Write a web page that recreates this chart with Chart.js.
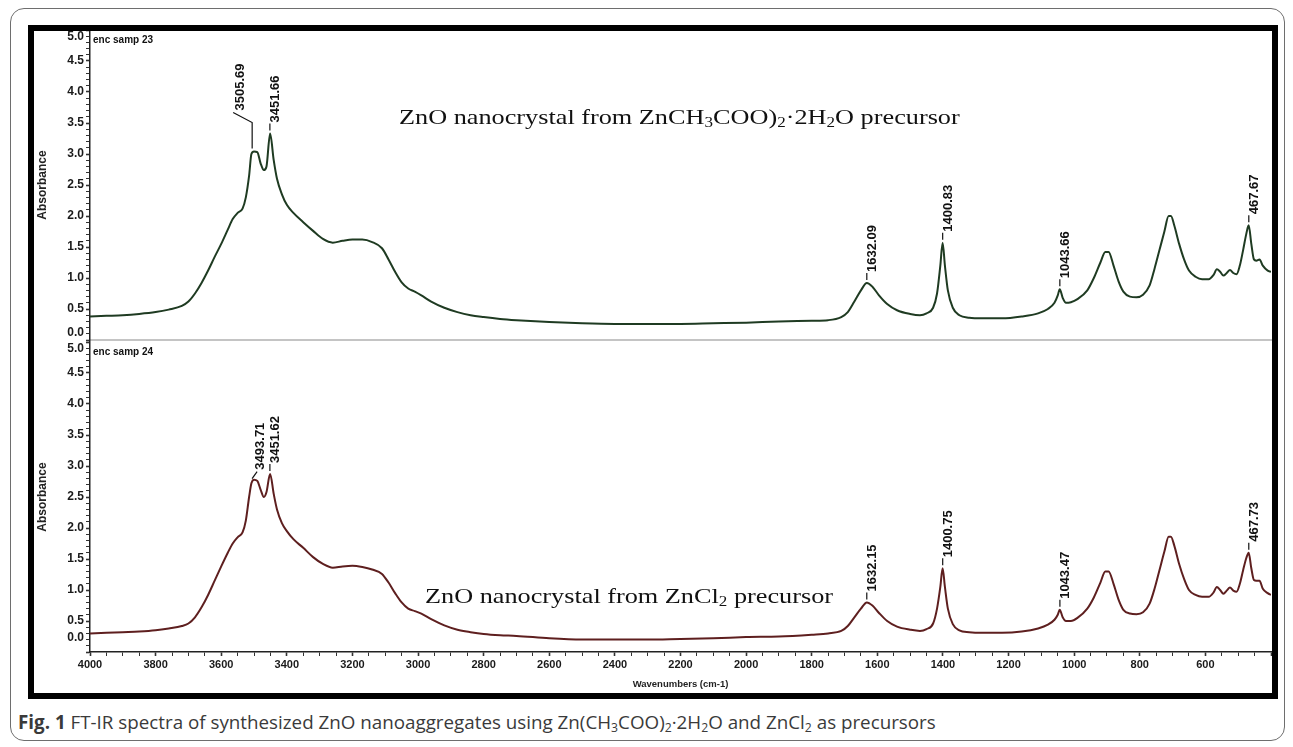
<!DOCTYPE html>
<html>
<head>
<meta charset="utf-8">
<title>FT-IR spectra of ZnO nanoaggregates</title>
<script src="https://cdn.jsdelivr.net/npm/chart.js@4.4.1/dist/chart.umd.min.js"></script>
<style>
html, body { margin:0; padding:0; background:#fff; width:1293px; height:747px; overflow:hidden; }
#outer { position:absolute; left:10px; top:8px; width:1275px; height:733px; border:1.5px solid #6e6e6e; border-radius:14px; box-sizing:border-box; }
#frame { position:absolute; left:28px; top:25px; width:1250px; height:674px; border:6px solid #000; box-sizing:border-box; z-index:5; }
#topWrap { position:absolute; left:34px; top:25px; width:1238px; height:320px; }
#botWrap { position:absolute; left:34px; top:341px; width:1238px; height:352px; }
.note { position:absolute; font-family:'Liberation Serif','Times New Roman',serif; font-size:21px; line-height:22px; color:#111; white-space:nowrap; z-index:6; transform:scaleX(1.25); transform-origin:0 50%; }
.note sub, #caption sub { font-size:0.65em; vertical-align:-0.25em; line-height:0; }
#caption { position:absolute; left:18px; top:710px; font-family:'Open Sans','Noto Sans',sans-serif; font-size:18.8px; line-height:24px; color:#3a3a3a; white-space:nowrap; }
</style>
</head>
<body>
<div id="outer"></div>
<div id="topWrap"><canvas id="topChart"></canvas></div>
<div id="botWrap"><canvas id="botChart"></canvas></div>
<div id="frame"></div>
<div class="note" id="noteTop" style="left:399px; top:106px;">ZnO nanocrystal from ZnCH<sub>3</sub>COO)<sub>2</sub>·2H<sub>2</sub>O precursor</div>
<div class="note" id="noteBot" style="left:425px; top:585px;">ZnO nanocrystal from ZnCl<sub>2</sub> precursor</div>
<div id="caption"><b>Fig. 1</b> FT-IR spectra of synthesized ZnO nanoaggregates using Zn(CH<sub>3</sub>COO)<sub>2</sub>·2H<sub>2</sub>O and ZnCl<sub>2</sub> as precursors</div>

<script>
// wavenumbers (cm-1), shared by both spectra
const wavenumbers = [4000, 3950, 3900, 3850, 3800, 3760, 3720, 3700, 3680, 3660, 3640, 3620, 3600, 3580, 3565, 3550,
  3535, 3525, 3515, 3508, 3500, 3490, 3480, 3470, 3462, 3451, 3440, 3430, 3415, 3400, 3380, 3350, 3320, 3290, 3260,
  3230, 3200, 3170, 3140, 3110, 3090, 3070, 3050, 3030, 3010, 2990, 2960, 2920, 2880, 2840, 2800, 2750, 2700, 2600,
  2500, 2400, 2300, 2200, 2100, 2000, 1900, 1800, 1750, 1710, 1690, 1670, 1650, 1632, 1615, 1595, 1570, 1540, 1500,
  1470, 1450, 1430, 1418, 1408, 1401, 1394, 1385, 1370, 1350, 1320, 1280, 1220, 1160, 1110, 1080, 1060, 1050, 1044,
  1035, 1025, 1010, 990, 960, 940, 920, 905, 895, 880, 865, 850, 830, 810, 790, 770, 755, 740, 725, 712, 705, 695,
  680, 665, 650, 630, 610, 590, 575, 565, 555, 545, 535, 525, 515, 505, 495, 485, 475, 468, 460, 452, 445, 435, 425,
  410, 400];

// ZnO from Zn(CH3COO)2·2H2O (enc samp 23)
const absTop = [0.38, 0.39, 0.40, 0.42, 0.45, 0.49, 0.55, 0.62, 0.75, 0.92, 1.12, 1.34, 1.55, 1.78, 1.95, 2.05,
  2.12, 2.30, 2.65, 3.00, 3.04, 3.03, 2.85, 2.74, 2.80, 3.33, 2.90, 2.60, 2.35, 2.18, 2.05, 1.90, 1.76, 1.63, 1.57,
  1.60, 1.62, 1.62, 1.58, 1.48, 1.30, 1.10, 0.93, 0.83, 0.78, 0.72, 0.62, 0.52, 0.45, 0.40, 0.37, 0.34, 0.32, 0.29,
  0.27, 0.26, 0.26, 0.26, 0.27, 0.28, 0.30, 0.31, 0.32, 0.37, 0.45, 0.62, 0.80, 0.92, 0.86, 0.72, 0.58, 0.48, 0.42,
  0.40, 0.43, 0.52, 0.75, 1.20, 1.57, 1.20, 0.80, 0.52, 0.40, 0.36, 0.35, 0.35, 0.38, 0.43, 0.50, 0.60, 0.72, 0.82,
  0.68, 0.60, 0.61, 0.66, 0.80, 1.00, 1.25, 1.42, 1.42, 1.20, 0.95, 0.78, 0.70, 0.69, 0.73, 0.88, 1.15, 1.45, 1.75,
  2.00, 2.00, 1.85, 1.55, 1.30, 1.12, 1.02, 0.98, 0.98, 1.05, 1.14, 1.10, 1.04, 1.08, 1.13, 1.08, 1.06, 1.20, 1.45,
  1.72, 1.85, 1.55, 1.30, 1.28, 1.30, 1.20, 1.12, 1.10];

// ZnO from ZnCl2 (enc samp 24)
const absBottom = [0.30, 0.31, 0.32, 0.33, 0.35, 0.38, 0.42, 0.46, 0.56, 0.72, 0.92, 1.15, 1.38, 1.60, 1.75, 1.85,
  1.93, 2.12, 2.50, 2.72, 2.78, 2.76, 2.62, 2.50, 2.58, 2.87, 2.55, 2.30, 2.08, 1.95, 1.82, 1.68, 1.53, 1.42, 1.36,
  1.38, 1.39, 1.37, 1.33, 1.26, 1.12, 0.95, 0.80, 0.70, 0.66, 0.62, 0.53, 0.43, 0.36, 0.32, 0.29, 0.27, 0.26, 0.22,
  0.20, 0.20, 0.20, 0.21, 0.22, 0.24, 0.25, 0.28, 0.30, 0.34, 0.42, 0.56, 0.70, 0.80, 0.75, 0.63, 0.50, 0.41, 0.36,
  0.34, 0.37, 0.46, 0.70, 1.05, 1.35, 1.05, 0.70, 0.45, 0.35, 0.32, 0.31, 0.31, 0.33, 0.38, 0.44, 0.52, 0.60, 0.68,
  0.56, 0.50, 0.50, 0.55, 0.70, 0.88, 1.12, 1.30, 1.30, 1.10, 0.85, 0.68, 0.62, 0.61, 0.64, 0.78, 1.02, 1.32, 1.62,
  1.86, 1.86, 1.72, 1.42, 1.18, 1.00, 0.92, 0.89, 0.89, 0.96, 1.05, 1.00, 0.94, 0.99, 1.04, 0.99, 0.97, 1.10, 1.32,
  1.52, 1.60, 1.35, 1.16, 1.15, 1.15, 1.02, 0.95, 0.92];

// peak labels as printed on each spectrum
const peaksTop = ['3505.69', '3451.66', '1632.09', '1400.83', '1043.66', '467.67'];
const peaksBottom = ['3493.71', '3451.62', '1632.15', '1400.75', '1043.47', '467.73'];

const SANS = '"Liberation Sans", Arial, sans-serif';

// rotated peak labels + sample name, placed from the chart's own scales
const peakLabelPlugin = {
  id: 'peakLabels',
  afterDatasetsDraw(chart, args, opts) {
    const { ctx, chartArea, scales: { x, y } } = chart;
    const pts = chart.data.datasets[0].data;
    ctx.save();
    ctx.fillStyle = '#111';
    ctx.strokeStyle = '#111';
    ctx.lineWidth = 1.2;
    ctx.font = 'bold 10px ' + SANS;
    ctx.textAlign = 'left';
    ctx.textBaseline = 'middle';
    ctx.fillText(opts.sample, chartArea.left + 3, chartArea.top + 10);

    ctx.font = 'bold 13px ' + SANS;
    opts.texts.forEach(t => {
      const wn = parseFloat(t);
      let best = null;
      pts.forEach(p => { if (Math.abs(p.x - wn) <= 8 && (!best || p.y > best.y)) best = p; });
      const px = x.getPixelForValue(wn);
      const py = y.getPixelForValue(best.y);
      let tx = px + 6, ty = py - 11;
      ctx.beginPath();
      if (t === opts.bend) {
        ctx.moveTo(px, py - 3);
        ctx.lineTo(px, py - 29);
        ctx.lineTo(px - 19, py - 39);
        tx = px - 12; ty = py - 41;
      } else if (t === opts.slash) {
        ctx.moveTo(px - 4, py - 1);
        ctx.lineTo(px + 1, py - 8);
        tx = px + 4; ty = py - 10;
      } else {
        ctx.moveTo(px, py - 3);
        ctx.lineTo(px, py - 10);
      }
      ctx.stroke();
      ctx.save();
      ctx.translate(tx, ty);
      ctx.rotate(-Math.PI / 2);
      ctx.fillText(t, 0, 0);
      ctx.restore();
    });
    ctx.restore();
  }
};

function yTickLabel(v, zeroPad) {
  const tenth = Math.round(v * 10);
  if (tenth % 5 !== 0) return '';
  const txt = (tenth / 10).toFixed(1);
  // end labels are nudged inwards like in the original print
  if (tenth === 50) return ['', txt];
  if (tenth === 0) return [txt].concat(Array(zeroPad).fill(''));
  return txt;
}

function yAxis(zeroPad) {
  return {
    type: 'linear', min: 0, max: 5,
    ticks: {
      stepSize: 0.1, autoSkip: false, padding: 2, color: '#1a1a1a',
      font: { family: SANS, size: 12, weight: 'bold', lineHeight: 14 / 12 },
      callback: v => yTickLabel(v, zeroPad)
    },
    grid: {
      display: true, drawOnChartArea: false, drawTicks: true, tickLength: 4, color: '#333',
      tickWidth: c => (Math.round(c.tick.value * 10) % 5 === 0 ? 1.6 : 1)
    },
    border: { display: true, color: '#222', width: 1.5 },
    title: {
      display: true, text: 'Absorbance', color: '#222',
      font: { family: SANS, size: 12, weight: 'bold', lineHeight: 1.2 },
      padding: { top: 1, bottom: 0 }
    },
    afterFit(s) { s.width = 56; s.paddingTop = 0; s.paddingBottom = 0; }
  };
}

function spectrum(vals, color) {
  return {
    data: wavenumbers.map((w, i) => ({ x: w, y: vals[i] })),
    borderColor: color, borderWidth: 2, pointRadius: 0,
    cubicInterpolationMode: 'monotone', fill: false
  };
}

const common = {
  responsive: true, maintainAspectRatio: false, animation: false,
  parsing: false, normalized: true
};

new Chart(document.getElementById('topChart'), {
  type: 'line',
  data: { datasets: [spectrum(absTop, '#1f3b22')] },
  options: Object.assign({}, common, {
    layout: { padding: { top: 5, right: 1, bottom: 3, left: 0 } },
    plugins: {
      legend: { display: false }, tooltip: { enabled: false },
      peakLabels: { texts: peaksTop, sample: 'enc samp 23', bend: '3505.69' }
    },
    scales: {
      x: {
        type: 'linear', min: 400, max: 4000, reverse: true,
        ticks: { display: false },
        grid: { display: false },
        border: { display: true, color: '#c4c4c4', width: 2 },
        afterFit(s) { s.height = 2; s.paddingLeft = 0; s.paddingRight = 0; }
      },
      y: yAxis(1)
    }
  }),
  plugins: [peakLabelPlugin]
});

new Chart(document.getElementById('botChart'), {
  type: 'line',
  data: { datasets: [spectrum(absBottom, '#5e1f1f')] },
  options: Object.assign({}, common, {
    layout: { padding: { top: 1, right: 1, bottom: 0, left: 0 } },
    plugins: {
      legend: { display: false }, tooltip: { enabled: false },
      peakLabels: { texts: peaksBottom, sample: 'enc samp 24', slash: '3493.71' }
    },
    scales: {
      x: {
        type: 'linear', min: 400, max: 4000, reverse: true,
        ticks: {
          stepSize: 50, autoSkip: false, maxRotation: 0, padding: 2, color: '#1a1a1a',
          font: { family: SANS, size: 11, weight: 'bold' },
          callback: v => (v % 200 === 0 && v > 400 ? String(v) : '')
        },
        grid: {
          display: true, drawOnChartArea: false, drawTicks: true, tickLength: 4, color: '#333',
          tickWidth: c => (c.tick.value % 200 === 0 ? 1.6 : 1)
        },
        border: { display: true, color: '#222', width: 1.5 },
        title: {
          display: true, text: 'Wavenumbers (cm-1)', color: '#222',
          font: { family: SANS, size: 9.5, weight: 'bold', lineHeight: 1.2 },
          padding: { top: 0, bottom: 3 }
        },
        afterFit(s) { s.height = 41; s.paddingLeft = 0; s.paddingRight = 0; }
      },
      y: yAxis(2)
    }
  }),
  plugins: [peakLabelPlugin]
});
</script>
</body>
</html>
